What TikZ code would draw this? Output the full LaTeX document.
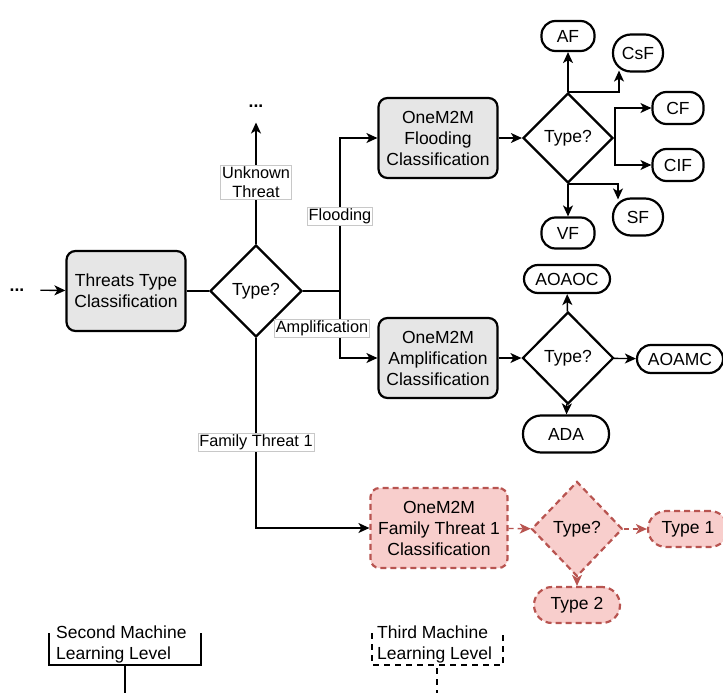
\documentclass[tikz,border=0pt]{standalone}
\usepackage{fontspec}
\setmainfont{Liberation Sans}
\usetikzlibrary{shapes.geometric,arrows.meta,calc}
\definecolor{boxgray}{HTML}{E6E6E6}
\definecolor{redfill}{HTML}{F8CECC}
\definecolor{redline}{HTML}{B85450}
\definecolor{lblline}{HTML}{C8C8C8}
\newcommand\nodefont{\fontsize{17.5}{21}\selectfont}
\newcommand\lblfont{\fontsize{16.3}{19}\selectfont}

\begin{document}
\begin{tikzpicture}[x=1pt,y=1pt,
  proc/.style={draw, line width=2.2pt, rounded corners=9pt, fill=boxgray,
    minimum width=119pt, minimum height=80pt, align=center, inner sep=2pt, font=\nodefont},
  dec/.style={diamond, draw, line width=2.2pt, fill=white, inner sep=0pt,
    minimum width=92pt, minimum height=92pt, font=\nodefont},
  leaf/.style={draw, line width=2.2pt, fill=white, rounded corners=14pt,
    inner sep=2pt, minimum height=30pt, font=\nodefont},
  redstyle/.style={draw=redline, fill=redfill, dash pattern=on 6pt off 4pt},
  conn/.style={line width=1.4pt, -{Stealth[length=11pt,width=10pt,inset=3pt]}},
  plain/.style={line width=1.4pt},
  redconn/.style={line width=1.4pt, draw=redline, dash pattern=on 5pt off 4pt,
    -{Stealth[length=11pt,width=10pt,inset=3pt,fill=redline]}},
  lbl/.style={draw=lblline, line width=0.6pt, fill=white, inner sep=1.5pt,
    align=center, font=\lblfont},
  dots/.style={font=\nodefont\bfseries, inner sep=0pt},
  lvl/.style={align=left, font=\nodefont, inner sep=0pt, anchor=north west},
]
\useasboundingbox (0,0) rectangle (723,-693);
\clip (0,0) rectangle (723,-693);

% first level
\node[dots] (dl) at (17,-290) {...};
\node[proc] (tt) at (126,-291) {Threats Type\\Classification};
\node[dec] (d1) at (256,-291) {Type?};
\node[dots] (dt) at (256,-106) {...};

% second level classifiers
\node[proc] (fl) at (438,-138) {OneM2M\\Flooding\\Classification};
\node[proc] (am) at (438,-358) {OneM2M\\Amplification\\Classification};
\node[proc, redstyle, minimum width=137pt] (fa) at (439,-528) {OneM2M\\Family Threat 1\\Classification};

% decisions
\node[dec, minimum width=90pt, minimum height=90pt] (fd) at (568,-138) {Type?};
\node[dec, minimum width=91pt] (ad) at (568,-358) {Type?};
\node[dec, redstyle, minimum width=91pt, minimum height=95pt] (md) at (577,-529) {Type?};

% flooding leaves
\node[leaf, minimum width=53pt] (af) at (568,-36) {AF};
\node[leaf, minimum width=50pt, minimum height=37pt, rounded corners=18pt] (csf) at (638,-53) {CsF};
\node[leaf, minimum width=51pt, minimum height=32pt] (cf) at (678,-108) {CF};
\node[leaf, minimum width=51pt, minimum height=32pt] (cif) at (678,-165) {CIF};
\node[leaf, minimum width=50pt, minimum height=37pt, rounded corners=18pt] (sf) at (638,-217) {SF};
\node[leaf, minimum width=53pt, minimum height=31pt] (vf) at (568,-233) {VF};

% amplification leaves
\node[leaf, minimum width=86pt, minimum height=28pt] (aoaoc) at (567,-279) {AOAOC};
\node[leaf, minimum width=86pt, minimum height=28pt] (aoamc) at (680,-359) {AOAMC};
\node[leaf, minimum width=86pt, minimum height=37pt, rounded corners=18pt] (ada) at (566,-434) {ADA};

% family threat leaves
\node[leaf, redstyle, minimum width=80pt, minimum height=36pt, rounded corners=18pt] (t1) at (688,-529) {Type 1};
\node[leaf, redstyle, minimum width=86pt, minimum height=36pt, rounded corners=18pt] (t2) at (577,-605) {Type 2};

% first level connectors
\draw[conn, shorten <=16pt] (dl) -- (tt);
\draw[plain] (tt) -- (d1);
\draw[conn, shorten >=15pt] (d1) -- (dt);
\coordinate (br) at (340,-291);
\draw[plain] (d1.east) -- (br);
\draw[conn] (br) |- (fl.west);
\draw[conn] (br) |- (am.west);
\draw[conn] (d1.south) |- (fa.west);

% branch labels
\node[lbl] (lu) at (256,-182) {Unknown\\Threat};
\node[lbl] (lf) at (340,-216) {Flooding};
\node[lbl] (la) at (322,-328) {Amplification};
\node[lbl] (lft) at (256,-442) {Family Threat 1};

% flooding connectors
\draw[conn] (fl) -- (fd);
\draw[conn] (fd.north) -- (af);
\draw[conn] (fd.north) -| ($(csf.south)+(-19,2)$);
\draw[conn] (fd.east) -- ++(1,0) |- (cf.west);
\draw[conn] (fd.east) -- ++(1,0) |- (cif.west);
\draw[conn] (fd.south) -- (vf);
\draw[conn] (fd.south) -| ($(sf.north)+(-20,-2)$);

% amplification connectors
\draw[conn] (am) -- (ad);
\draw[conn] (ad) -- (aoaoc);
\draw[conn] (ad) -- (aoamc);
\draw[conn] (ad) -- (ada);

% family threat connectors
\draw[redconn] (fa) -- (md);
\draw[redconn] (md) -- (t1);
\draw[redconn] (md) -- (t2);

% machine learning levels
\node[lvl] (sl) at (56,-626) {Second Machine\\Learning Level};
\draw[line width=2.2pt] (49,-633) -- (49,-665) -- (201,-665) -- (201,-633);
\draw[line width=2.2pt] (125,-665) -- (125,-700);
\node[lvl] (tl) at (377,-626) {Third Machine\\Learning Level};
\draw[line width=2.2pt, dash pattern=on 6pt off 5pt] (372,-633) -- (372,-665) -- (503,-665) -- (503,-633);
\draw[line width=2.2pt, dash pattern=on 6pt off 5pt] (437,-668) -- (437,-700);
\end{tikzpicture}
\end{document}
